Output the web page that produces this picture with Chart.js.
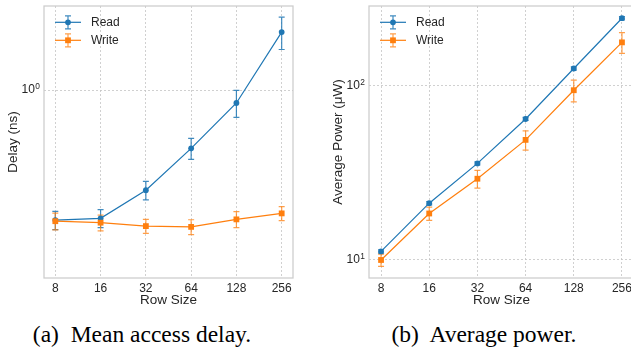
<!DOCTYPE html>
<html>
<head>
<meta charset="utf-8">
<script src="https://cdn.jsdelivr.net/npm/chart.js@4.4.1/dist/chart.umd.min.js"></script>
<style>
html, body { margin: 0; padding: 0; background: #fff; overflow: hidden; }
#wrap { position: relative; width: 631px; height: 350px; overflow: hidden; }
canvas { position: absolute; top: 0; }
#delayChart { left: 0; }
#powerChart { left: 320px; }
.caption {
    position: absolute; width: 320px; text-align: center; top: 322px;
    font-family: "Liberation Serif", "Times New Roman", serif;
    font-size: 23.5px; line-height: 24px; color: #000; white-space: pre;
}
</style>
</head>
<body>
<div id="wrap">
    <canvas id="delayChart" width="320" height="310"></canvas>
    <canvas id="powerChart" width="330" height="310"></canvas>
    <div class="caption" style="left:-18px">(a)  Mean access delay.</div>
    <div class="caption" style="left:324px">(b)  Average power.</div>
</div>
<script>
// Data
const rowSizes = [8, 16, 32, 64, 128, 256];

const readDelay     = [0.281, 0.286, 0.376, 0.566, 0.881, 1.76];
const readDelayErr  = [0.025, 0.025, 0.034, 0.058, 0.116, 0.275];
const writeDelay    = [0.278, 0.274, 0.265, 0.263, 0.283, 0.300];
const writeDelayErr = [0.0225, 0.021, 0.018, 0.019, 0.022, 0.0205];

const readPower     = [11.2, 21.2, 35.9, 64.6, 126, 245];
const readPowerErr  = [0.25, 0.45, 0.75, 1.3, 2.6, 5];
const writePower    = [10.0, 18.5, 29.3, 49, 94.5, 178];
const writePowerErr = [0.8, 1.6, 3.4, 6.2, 13.4, 24.3];

const xTicks = [8, 16, 32, 64, 128, 256];
const delayTicks = [1];
const powerTicks = [10, 100];
const delayRange = [0.1597, 2.27];
const powerRange = [7.88, 288];

const BLUE = '#1f77b4';
const ORANGE = '#ff7f0e';
const TEXT = '#262626';
const FONT = '"Liberation Sans", Arial, sans-serif';

// Error bars, frame and power-of-ten tick labels
const errorBars = {
    id: 'errorBars',
    beforeDatasetsDraw(chart) {
        const { ctx, chartArea, scales: { x, y } } = chart;
        ctx.save();
        ctx.strokeStyle = '#cccccc';
        ctx.lineWidth = 1.25;
        ctx.strokeRect(chartArea.left, chartArea.top, chartArea.right - chartArea.left, chartArea.bottom - chartArea.top);

        chart.data.datasets.forEach(ds => {
            ctx.strokeStyle = ds.errorColor;
            ctx.lineWidth = 1.2;
            ds.data.forEach((p, i) => {
                const e = ds.errors[i];
                const px = x.getPixelForValue(p.x);
                const top = y.getPixelForValue(p.y + e);
                const bot = y.getPixelForValue(p.y - e);
                ctx.beginPath();
                ctx.moveTo(px, top); ctx.lineTo(px, bot);
                ctx.moveTo(px - 3, top); ctx.lineTo(px + 3, top);
                ctx.moveTo(px - 3, bot); ctx.lineTo(px + 3, bot);
                ctx.stroke();
            });
        });
        ctx.restore();
    },
    afterDraw(chart) {
        const { ctx, chartArea, scales: { y } } = chart;
        ctx.save();
        ctx.fillStyle = TEXT;
        ctx.textAlign = 'right';
        ctx.textBaseline = 'middle';
        y.ticks.forEach(t => {
            const py = y.getPixelForValue(t.value);
            const exp = String(Math.round(Math.log10(t.value)));
            const right = chartArea.left - 4;
            ctx.font = '8.4px ' + FONT;
            const ew = ctx.measureText(exp).width;
            ctx.fillText(exp, right, py - 3.5);
            ctx.font = '12px ' + FONT;
            ctx.fillText('10', right - ew - 0.5, py);
        });

        // legend
        const lx = chartArea.left + 11;
        chart.data.datasets.forEach((ds, i) => {
            const ly = chartArea.top + 16.3 + i * 18;
            ctx.strokeStyle = ds.borderColor;
            ctx.lineWidth = 1.2;
            ctx.beginPath();
            ctx.moveTo(lx, ly); ctx.lineTo(lx + 26, ly);
            ctx.stroke();
            ctx.strokeStyle = ds.errorColor;
            ctx.beginPath();
            ctx.moveTo(lx + 13, ly - 6.5); ctx.lineTo(lx + 13, ly + 6.5);
            ctx.moveTo(lx + 10, ly - 6.5); ctx.lineTo(lx + 16, ly - 6.5);
            ctx.moveTo(lx + 10, ly + 6.5); ctx.lineTo(lx + 16, ly + 6.5);
            ctx.stroke();
            ctx.fillStyle = ds.borderColor;
            ctx.beginPath();
            if (ds.pointStyle === 'rect') {
                ctx.rect(lx + 13 - 2.9, ly - 2.9, 5.8, 5.8);
            } else {
                ctx.arc(lx + 13, ly, 2.9, 0, Math.PI * 2);
            }
            ctx.fill();
            ctx.fillStyle = TEXT;
            ctx.font = '12px ' + FONT;
            ctx.textAlign = 'left';
            ctx.fillText(ds.label, lx + 36, ly);
        });
        ctx.restore();
    }
};

function makeDataset(label, values, errors, color, style, order) {
    return {
        label: label,
        data: rowSizes.map((x, i) => ({ x: x, y: values[i] })),
        errors: errors,
        errorColor: color === BLUE ? 'rgba(31,119,180,0.85)' : 'rgba(255,127,14,0.75)',
        borderColor: color,
        backgroundColor: color,
        borderWidth: 1.2,
        pointStyle: style,
        pointRadius: style === 'rect' ? 4.1 : 2.9,
        pointBorderWidth: 0,
        order: order
    };
}

function makeChart(id, opts) {
    const canvas = document.getElementById(id);
    return new Chart(canvas.getContext('2d'), {
        type: 'line',
        data: {
            datasets: [
                makeDataset('Read', opts.read, opts.readErr, BLUE, 'circle', 1),
                makeDataset('Write', opts.write, opts.writeErr, ORANGE, 'rect', 0)
            ]
        },
        options: {
            responsive: false,
            animation: false,
            devicePixelRatio: 1,
            layout: { padding: { top: 6, right: canvas.width - opts.areaRight, left: 0, bottom: 0 } },
            plugins: { legend: { display: false }, tooltip: { enabled: false } },
            scales: {
                x: {
                    type: 'logarithmic',
                    min: 8 / Math.pow(2, 0.25),
                    max: 256 * Math.pow(2, 0.25),
                    afterBuildTicks: ax => { ax.ticks = xTicks.map(v => ({ value: v })); },
                    afterFit: ax => { ax.height = canvas.height - 278; },
                    ticks: {
                        callback: v => String(v),
                        autoSkip: false, maxRotation: 0, padding: 3,
                        color: TEXT, font: { family: FONT, size: 12 }
                    },
                    grid: { color: '#c4c4c4', lineWidth: 0.8, drawTicks: false },
                    border: { display: false, dash: [2, 2] },
                    title: {
                        display: true, text: 'Row Size', color: TEXT,
                        font: { family: FONT, size: 13.5 }, padding: { top: 0, bottom: 2 }
                    }
                },
                y: {
                    type: 'logarithmic',
                    min: opts.range[0],
                    max: opts.range[1],
                    afterBuildTicks: ax => { ax.ticks = opts.yTicks.map(v => ({ value: v })); },
                    afterFit: ax => { ax.width = opts.areaLeft; },
                    ticks: { display: false },
                    grid: { color: '#c4c4c4', lineWidth: 0.8, drawTicks: false },
                    border: { display: false, dash: [2, 2] },
                    title: {
                        display: true, text: opts.yTitle, color: TEXT,
                        font: { family: FONT, size: 13.5 }, padding: { top: opts.titlePad, bottom: 0 }
                    }
                }
            }
        },
        plugins: [errorBars]
    });
}

document.addEventListener('DOMContentLoaded', function() {
    makeChart('delayChart', {
        read: readDelay, readErr: readDelayErr,
        write: writeDelay, writeErr: writeDelayErr,
        range: delayRange, yTicks: delayTicks,
        yTitle: 'Delay (ns)', areaLeft: 44, areaRight: 293, titlePad: 5
    });
    makeChart('powerChart', {
        read: readPower, readErr: readPowerErr,
        write: writePower, writeErr: writePowerErr,
        range: powerRange, yTicks: powerTicks,
        yTitle: 'Average Power (μW)', areaLeft: 49, areaRight: 314, titlePad: 10
    });
});
</script>
</body>
</html>
